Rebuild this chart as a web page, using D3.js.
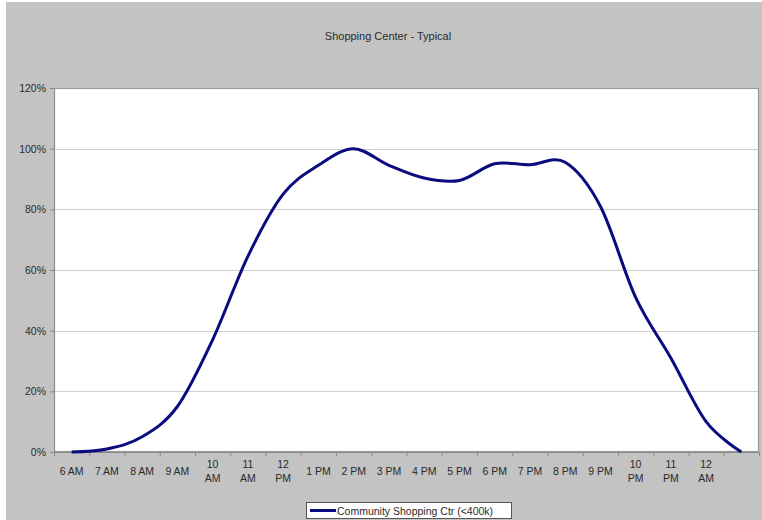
<!DOCTYPE html>
<html>
<head>
<meta charset="utf-8">
<script src="https://cdn.jsdelivr.net/npm/d3@7/dist/d3.min.js"></script>
<style>
  html, body { margin: 0; padding: 0; background: #ffffff; }
  svg { display: block; }
  text { font-family: "Liberation Sans", Arial, sans-serif; fill: #2a2a2a; }
</style>
</head>
<body>
<svg id="chart" width="762" height="520"></svg>
<script>
// Hourly traffic share, community shopping centre (<400k sq ft)
const hours = ["6 AM", "7 AM", "8 AM", "9 AM", "10 AM", "11 AM", "12 PM",
  "1 PM", "2 PM", "3 PM", "4 PM", "5 PM", "6 PM", "7 PM", "8 PM", "9 PM",
  "10 PM", "11 PM", "12 AM", ""];
const shares = [0.00, 0.01, 0.05, 0.15, 0.37, 0.645, 0.85, 0.945, 1.00, 0.945,
  0.903, 0.895, 0.95, 0.947, 0.955, 0.81, 0.51, 0.31, 0.10, 0.00];
const yTicks = [0, 0.2, 0.4, 0.6, 0.8, 1.0, 1.2];
const seriesName = "Community Shopping Ctr (<400k)";
const chartTitle = "Shopping Center - Typical";

const svg = d3.select("#chart");
const W = 762, H = 520;
const plot = { left: 54, right: 759, top: 88, bottom: 452 };

// chart area background
svg.append("rect").attr("x", 6).attr("y", 2).attr("width", W - 6).attr("height", H - 2)
  .attr("fill", "#c3c3c3");

svg.append("text").attr("x", 388).attr("y", 40).attr("text-anchor", "middle")
  .attr("font-size", 11).text(chartTitle);

const x = d3.scaleBand().domain(d3.range(hours.length))
  .range([plot.left, plot.right]).paddingInner(0).paddingOuter(0);
const xEdges = d3.scaleLinear().domain([0, hours.length]).range([plot.left, plot.right]);
const y = d3.scaleLinear().domain([0, 1.2]).range([plot.bottom, plot.top]);

// plot area
svg.append("rect").attr("x", plot.left).attr("y", plot.top)
  .attr("width", plot.right - plot.left).attr("height", plot.bottom - plot.top)
  .attr("fill", "#ffffff");

// horizontal gridlines
svg.append("g").selectAll("line").data(yTicks.slice(1)).join("line")
  .attr("x1", plot.left).attr("x2", plot.right)
  .attr("y1", d => Math.round(y(d)) + 0.5).attr("y2", d => Math.round(y(d)) + 0.5)
  .attr("stroke", "#cfcfcf").attr("stroke-width", 1.2);

// plot border
svg.append("rect").attr("x", plot.left + 0.5).attr("y", plot.top + 0.5)
  .attr("width", plot.right - plot.left - 1).attr("height", plot.bottom - plot.top - 1)
  .attr("fill", "none").attr("stroke", "#9a9a9a").attr("stroke-width", 1.2);

// y axis
const yAxis = svg.append("g").attr("transform", `translate(${plot.left},0)`)
  .call(d3.axisLeft(y).tickValues(yTicks).tickFormat(d3.format(".0%")).tickSize(4).tickPadding(4));
yAxis.select(".domain").attr("stroke", "#8a8a8a");
yAxis.selectAll(".tick line").attr("stroke", "#8a8a8a");
yAxis.selectAll(".tick text").attr("font-size", 10.5).attr("fill", "#2a2a2a")
  .attr("font-family", "Liberation Sans, Arial, sans-serif");

// x axis: tick marks at category boundaries
const xTickAxis = svg.append("g").attr("transform", `translate(0,${plot.bottom})`)
  .call(d3.axisBottom(xEdges).tickValues(d3.range(1, hours.length)).tickSize(4).tickFormat(""));
xTickAxis.select(".domain").attr("stroke", "#8a8a8a");
xTickAxis.selectAll(".tick line").attr("stroke", "#8a8a8a");

// x axis: category labels centred in their bands
const xLabelAxis = svg.append("g").attr("transform", `translate(0,${plot.bottom})`)
  .call(d3.axisBottom(x).tickSize(0).tickPadding(16).tickFormat(i => hours[i]));
xLabelAxis.select(".domain").remove();
xLabelAxis.selectAll(".tick text")
  .attr("font-size", 10.5).attr("fill", "#2a2a2a")
  .attr("font-family", "Liberation Sans, Arial, sans-serif")
  .each(function (i) {
    const parts = hours[i].split(" ");
    if (parts.length === 2 && parts[0].length > 1) {
      const t = d3.select(this).text(null);
      t.append("tspan").attr("x", 0).attr("dy", 0).text(parts[0]);
      t.append("tspan").attr("x", 0).attr("dy", "1.3em").text(parts[1]);
    }
  });

// series line
const line = d3.line()
  .x((d, i) => x(i) + x.bandwidth() / 2)
  .y(d => y(d))
  .curve(d3.curveCatmullRom.alpha(0));
svg.append("path").datum(shares).attr("d", line)
  .attr("fill", "none").attr("stroke", "#0b0b80").attr("stroke-width", 3)
  .attr("stroke-linejoin", "round");

// legend
const lg = svg.append("g").attr("transform", "translate(306,502)");
lg.append("rect").attr("x", 0.5).attr("y", 0.5).attr("width", 205).attr("height", 16)
  .attr("fill", "#ffffff").attr("stroke", "#555555").attr("stroke-width", 1);
lg.append("line").attr("x1", 4).attr("x2", 30).attr("y1", 8.5).attr("y2", 8.5)
  .attr("stroke", "#0b0b80").attr("stroke-width", 3);
lg.append("text").attr("x", 31).attr("y", 12.5).attr("font-size", 10.5).text(seriesName);
</script>
</body>
</html>
